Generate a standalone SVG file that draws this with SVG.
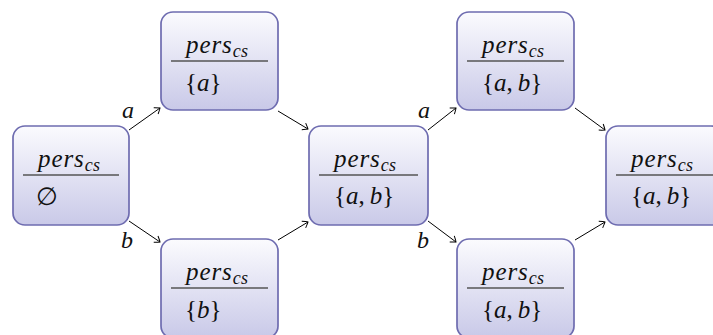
<svg xmlns="http://www.w3.org/2000/svg" width="713" height="335" viewBox="0 0 713 335">
<style>
.box{fill:url(#g);stroke:#6e6cb0;stroke-width:1.7}
.div{stroke:#555;stroke-width:1.3}
.t{font-family:"Liberation Serif","Times New Roman",serif;font-size:25px;fill:#111}
.i{font-style:italic}
.p{font-style:italic;letter-spacing:0.9px}
.s{font-style:italic;font-size:18px;letter-spacing:0.3px}
.lbl{font-family:"Liberation Serif","Times New Roman",serif;font-style:italic;font-size:24px;fill:#111}
.e{stroke:#000;stroke-width:1;fill:none}
</style>
<defs>
<linearGradient id="g" x1="0" y1="0" x2="0" y2="1">
<stop offset="0" stop-color="#fbfbfe"/>
<stop offset="1" stop-color="#c9c9e8"/>
</linearGradient>
<marker id="ar" viewBox="-6 -5 8 10" markerWidth="8" markerHeight="10" refX="0" refY="0" orient="auto" markerUnits="userSpaceOnUse">
<path d="M-5,-3.8 Q-1,-1 0,0 Q-1,1 -5,3.8" fill="none" stroke="#000" stroke-width="1"/>
</marker>
</defs>
<g id="connectors">
<line class="e" x1="129" y1="130" x2="160" y2="108" marker-end="url(#ar)"/>
<line class="e" x1="129" y1="221" x2="160" y2="242" marker-end="url(#ar)"/>
<line class="e" x1="278" y1="111" x2="308" y2="129" marker-end="url(#ar)"/>
<line class="e" x1="278" y1="240" x2="308" y2="222" marker-end="url(#ar)"/>
<line class="e" x1="428" y1="130" x2="456" y2="108" marker-end="url(#ar)"/>
<line class="e" x1="428" y1="221" x2="456" y2="242" marker-end="url(#ar)"/>
<line class="e" x1="575" y1="108" x2="605" y2="130" marker-end="url(#ar)"/>
<line class="e" x1="575" y1="240" x2="605" y2="222" marker-end="url(#ar)"/>
<text class="lbl" x="122" y="118">a</text>
<text class="lbl" x="121" y="248">b</text>
<text class="lbl" x="418" y="118">a</text>
<text class="lbl" x="417" y="248">b</text>
</g>
<g id="n1">
<rect class="box" x="13" y="126" width="116" height="99" rx="12"/>
<text class="t" x="38" y="167"><tspan class="p">pers</tspan><tspan class="s" dy="4">cs</tspan></text>
<line class="div" x1="23" y1="175" x2="119" y2="175"/>
<text class="t" x="36" y="205">∅</text>
</g>
<g id="n2">
<rect class="box" x="161" y="12" width="117" height="98" rx="12"/>
<text class="t" x="186" y="53"><tspan class="p">pers</tspan><tspan class="s" dy="4">cs</tspan></text>
<line class="div" x1="171" y1="61" x2="268" y2="61"/>
<text class="t" x="185" y="91">{<tspan class="i">a</tspan>}</text>
</g>
<g id="n3">
<rect class="box" x="309" y="126" width="119" height="99" rx="12"/>
<text class="t" x="334" y="167"><tspan class="p">pers</tspan><tspan class="s" dy="4">cs</tspan></text>
<line class="div" x1="319" y1="175" x2="418" y2="175"/>
<text class="t" x="334" y="204">{<tspan class="i">a</tspan>,&#8201;<tspan class="i">b</tspan>}</text>
</g>
<g id="n4">
<rect class="box" x="161" y="239" width="117" height="99" rx="12"/>
<text class="t" x="186" y="280"><tspan class="p">pers</tspan><tspan class="s" dy="4">cs</tspan></text>
<line class="div" x1="171" y1="288" x2="268" y2="288"/>
<text class="t" x="185" y="318">{<tspan class="i">b</tspan>}</text>
</g>
<g id="n5">
<rect class="box" x="457" y="12" width="117" height="98" rx="12"/>
<text class="t" x="482" y="53"><tspan class="p">pers</tspan><tspan class="s" dy="4">cs</tspan></text>
<line class="div" x1="467" y1="61" x2="564" y2="61"/>
<text class="t" x="482" y="91">{<tspan class="i">a</tspan>,&#8201;<tspan class="i">b</tspan>}</text>
</g>
<g id="n6">
<rect class="box" x="457" y="239" width="117" height="99" rx="12"/>
<text class="t" x="482" y="280"><tspan class="p">pers</tspan><tspan class="s" dy="4">cs</tspan></text>
<line class="div" x1="467" y1="288" x2="564" y2="288"/>
<text class="t" x="482" y="318">{<tspan class="i">a</tspan>,&#8201;<tspan class="i">b</tspan>}</text>
</g>
<g id="n7">
<rect class="box" x="606" y="126" width="117" height="99" rx="12"/>
<text class="t" x="631" y="167"><tspan class="p">pers</tspan><tspan class="s" dy="4">cs</tspan></text>
<line class="div" x1="616" y1="175" x2="713" y2="175"/>
<text class="t" x="631" y="204">{<tspan class="i">a</tspan>,&#8201;<tspan class="i">b</tspan>}</text>
</g>
</svg>
